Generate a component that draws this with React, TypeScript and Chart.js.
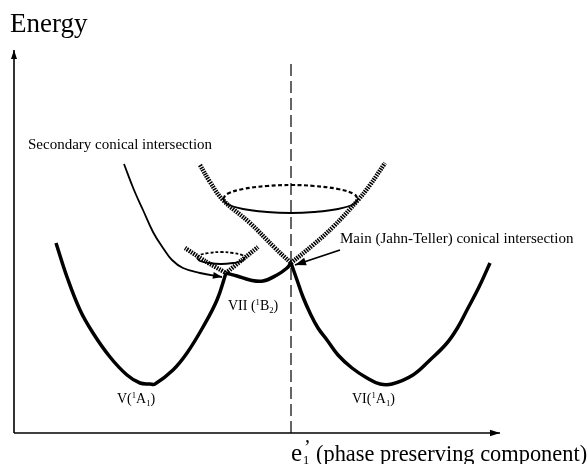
import React, { useEffect, useRef } from "react";
import { Chart, registerables } from "chart.js";

Chart.register(...registerables);

// Units: x = displacement along e1' (arbitrary units, 0 at the Jahn-Teller point),
//        E = energy (arbitrary units, 0 at the abscissa)
type P = [number, number];

// lower (thick) potential curves
const curveV: P[] = [
  [-23.5, 19.0], [-22.4, 15.6], [-21.1, 12.3], [-19.8, 10.0], [-18.1, 7.6],
  [-16.4, 5.8], [-15.1, 5.0], [-14.1, 4.9], [-13.6, 4.9], [-11.8, 6.3],
  [-10.4, 8.0], [-8.8, 10.6], [-7.4, 13.3], [-6.5, 16.0],
];
const curveVII: P[] = [
  [-6.5, 16.0], [-5.4, 15.7], [-4.1, 15.3], [-2.8, 15.2], [-1.4, 15.8], [-0.4, 16.5], [0, 17.0],
];
const curveVI: P[] = [
  [0, 17.0], [0.6, 15.3], [1.2, 13.6], [1.9, 12.0], [2.7, 10.5], [3.6, 9.3], [4.7, 7.8],
  [6.1, 6.5], [7.6, 5.5], [8.9, 4.9], [10.1, 4.9], [12.2, 5.8], [13.9, 7.3], [15.6, 9.0],
  [16.7, 10.6], [17.6, 12.3], [18.8, 14.6], [19.9, 17.0],
];

// upper (hatched) cone surfaces
const mainConeLeft: P[] = [[-9.1, 26.8], [-8.1, 25.1], [-6.8, 23.3], [-4.1, 21.0], [-1.6, 18.5], [0, 17.0]];
const mainConeRight: P[] = [[0, 17.0], [2.2, 18.8], [4.2, 20.6], [6.7, 23.3], [7.9, 24.8], [9.4, 27.0]];
const smallConeLeft: P[] = [[-10.6, 18.5], [-8.6, 17.2], [-6.5, 16.0]];
const smallConeRight: P[] = [[-6.5, 16.0], [-4.9, 17.3], [-3.3, 18.6]];

// cone cross-sections (ellipses): back half dotted, front half solid
const mainRingBack: P[] = [
  [-6.8, 23.4], [-6.4, 23.9], [-4.8, 24.4], [-2.4, 24.7], [0, 24.8], [2.3, 24.7], [4.7, 24.4], [6.3, 23.9], [6.7, 23.4],
];
const mainRingFront: P[] = [
  [-6.8, 23.4], [-6.4, 22.9], [-4.8, 22.4], [-2.4, 22.1], [0, 22.0], [2.3, 22.1], [4.7, 22.4], [6.3, 22.9], [6.7, 23.4],
];
const smallRingBack: P[] = [[-9.4, 17.5], [-9.1, 17.8], [-8.2, 18.0], [-7.0, 18.1], [-5.8, 18.0], [-4.9, 17.8], [-4.6, 17.5]];
const smallRingFront: P[] = [[-9.4, 17.5], [-9.1, 17.2], [-8.2, 17.0], [-7.0, 16.9], [-5.8, 17.0], [-4.9, 17.2], [-4.6, 17.5]];

// thin curve leading to the secondary conical intersection (ends in an arrow)
const secondaryPath: P[] = [
  [-16.7, 26.9], [-15.7, 24.3], [-14.8, 22.3], [-13.8, 20.1], [-12.8, 18.5], [-11.9, 17.3],
  [-10.8, 16.5], [-9.1, 16.0], [-6.9, 15.6],
];
// pointer from the "Main ..." label to the Jahn-Teller point
const mainPointer: P[] = [[4.9, 18.3], [0.4, 16.8]];

// axes and symmetry line
const energyAxis: P[] = [[-27.7, 0], [-27.7, 38.3]];
const coordAxis: P[] = [[-27.7, 0], [20.9, 0]];
const symmetryLine: P[] = [[0, 0], [0, 37.1]];

const X_RANGE: P = [-29.1, 29.7];
const E_RANGE: P = [-3.1, 43.3];

type Seg = { t: string; sup?: boolean; sub?: boolean };
const textLabels: { segs: Seg[]; at: P; size: number }[] = [
  { segs: [{ t: "Energy" }], at: [-28.1, 40.1], size: 27 },
  { segs: [{ t: "Secondary conical intersection" }], at: [-26.3, 28.4], size: 15 },
  { segs: [{ t: "Main (Jahn-Teller) conical intersection" }], at: [4.9, 19.0], size: 15 },
  { segs: [{ t: "VII (" }, { t: "1", sup: true }, { t: "B" }, { t: "2", sub: true }, { t: ")" }], at: [-6.3, 12.3], size: 14 },
  { segs: [{ t: "V(" }, { t: "1", sup: true }, { t: "A" }, { t: "1", sub: true }, { t: ")" }], at: [-17.4, 3.0], size: 14 },
  { segs: [{ t: "VI(" }, { t: "1", sup: true }, { t: "A" }, { t: "1", sub: true }, { t: ")" }], at: [6.1, 3.0], size: 14 },
  { segs: [{ t: "(phase preserving component)" }], at: [2.5, -2.8], size: 22.4 },
];
const axisSymbol = { base: "e", sub: "1", prime: "\u2019", at: [0, -2.8] as P, size: 25 };

const FONT = '"Liberation Serif", "Times New Roman", serif';

const toXY = (c: P[]) => c.map(([x, y]) => ({ x, y }));

function line(c: P[], width: number, extra: any = {}) {
  return {
    data: toXY(c),
    showLine: true,
    borderColor: "#000",
    backgroundColor: "#000",
    borderWidth: width,
    pointRadius: 0,
    pointHoverRadius: 0,
    tension: 0.4,
    borderCapStyle: "butt",
    borderJoinStyle: "round",
    fill: false,
    ...extra,
  };
}

const HATCH = [1.5, 1];

const arrowDefs: { pts: P[]; len: number; half: number }[] = [
  { pts: energyAxis, len: 9, half: 3 },
  { pts: coordAxis, len: 10, half: 3.2 },
  { pts: secondaryPath, len: 9, half: 3.5 },
  { pts: mainPointer, len: 11, half: 4 },
];

export default function App() {
  const ref = useRef<HTMLCanvasElement | null>(null);
  useEffect(() => {
    document.body.style.margin = "0";
    const canvas = ref.current;
    if (!canvas) return;

    const overlay = {
      id: "overlay",
      afterDatasetsDraw(chart: any) {
        const ctx = chart.ctx as CanvasRenderingContext2D;
        const xs = chart.scales.x;
        const ys = chart.scales.y;
        const px = (v: number) => xs.getPixelForValue(v);
        const py = (v: number) => ys.getPixelForValue(v);
        ctx.save();
        ctx.fillStyle = "#000";
        // arrow heads
        for (const a of arrowDefs) {
          const n = a.pts.length;
          const x1 = px(a.pts[n - 2][0]), y1 = py(a.pts[n - 2][1]);
          const x2 = px(a.pts[n - 1][0]), y2 = py(a.pts[n - 1][1]);
          const ang = Math.atan2(y2 - y1, x2 - x1);
          const bx = x2 - a.len * Math.cos(ang), by = y2 - a.len * Math.sin(ang);
          ctx.beginPath();
          ctx.moveTo(x2, y2);
          ctx.lineTo(bx + a.half * Math.sin(ang), by - a.half * Math.cos(ang));
          ctx.lineTo(bx - a.half * Math.sin(ang), by + a.half * Math.cos(ang));
          ctx.closePath();
          ctx.fill();
        }
        // labels
        ctx.textBaseline = "alphabetic";
        ctx.textAlign = "left";
        for (const l of textLabels) {
          let cx = px(l.at[0]);
          const by = py(l.at[1]);
          for (const s of l.segs) {
            const small = s.sup || s.sub;
            const fs = small ? l.size * 0.62 : l.size;
            ctx.font = `${fs}px ${FONT}`;
            const dy = s.sup ? -l.size * 0.36 : s.sub ? l.size * 0.2 : 0;
            ctx.fillText(s.t, cx, by + dy);
            cx += ctx.measureText(s.t).width;
          }
        }
        // e1' axis symbol
        {
          const s = axisSymbol;
          let cx = px(s.at[0]);
          const by = py(s.at[1]);
          ctx.font = `${s.size}px ${FONT}`;
          ctx.fillText(s.base, cx, by);
          cx += ctx.measureText(s.base).width + 1;
          ctx.font = `${s.size * 0.5}px ${FONT}`;
          ctx.fillText(s.sub, cx, by + s.size * 0.12);
          ctx.font = `${s.size * 0.8}px ${FONT}`;
          ctx.fillText(s.prime, cx + 1, by - s.size * 0.3);
        }
        ctx.restore();
      },
    };

    const chart = new Chart(canvas, {
      type: "scatter",
      data: {
        datasets: [
          line(curveV, 3.5),
          line(curveVII, 3.5),
          line(curveVI, 3.5),
          line(secondaryPath, 1.8),
          line(mainPointer, 1.8, { tension: 0 }),
          line(mainRingFront, 1.9),
          line(mainRingBack, 2.2, { borderDash: [4, 2.5] }),
          line(smallRingFront, 1.8),
          line(smallRingBack, 1.8, { borderDash: [3, 2] }),
          line(mainConeLeft, 4.5, { borderDash: HATCH }),
          line(mainConeRight, 4.5, { borderDash: HATCH }),
          line(smallConeLeft, 4.5, { borderDash: HATCH, tension: 0.2 }),
          line(smallConeRight, 4.5, { borderDash: HATCH, tension: 0.2 }),
          line(symmetryLine, 1.2, { borderDash: [12, 5], tension: 0 }),
          line(energyAxis, 1.6, { tension: 0 }),
          line(coordAxis, 1.6, { tension: 0 }),
        ] as any,
      },
      options: {
        animation: false,
        responsive: false,
        maintainAspectRatio: false,
        devicePixelRatio: 1,
        layout: { padding: 0 },
        events: [],
        plugins: { legend: { display: false }, tooltip: { enabled: false } },
        scales: {
          x: { type: "linear", display: false, min: X_RANGE[0], max: X_RANGE[1] },
          y: { type: "linear", display: false, min: E_RANGE[0], max: E_RANGE[1] },
        },
      },
      plugins: [overlay],
    } as any);
    return () => chart.destroy();
  }, []);

  return (
    <div style={{ position: "absolute", left: 0, top: 0, width: 588, height: 464, background: "#fff" }}>
      <canvas ref={ref} width={588} height={464} style={{ display: "block", width: 588, height: 464 }} />
    </div>
  );
}
